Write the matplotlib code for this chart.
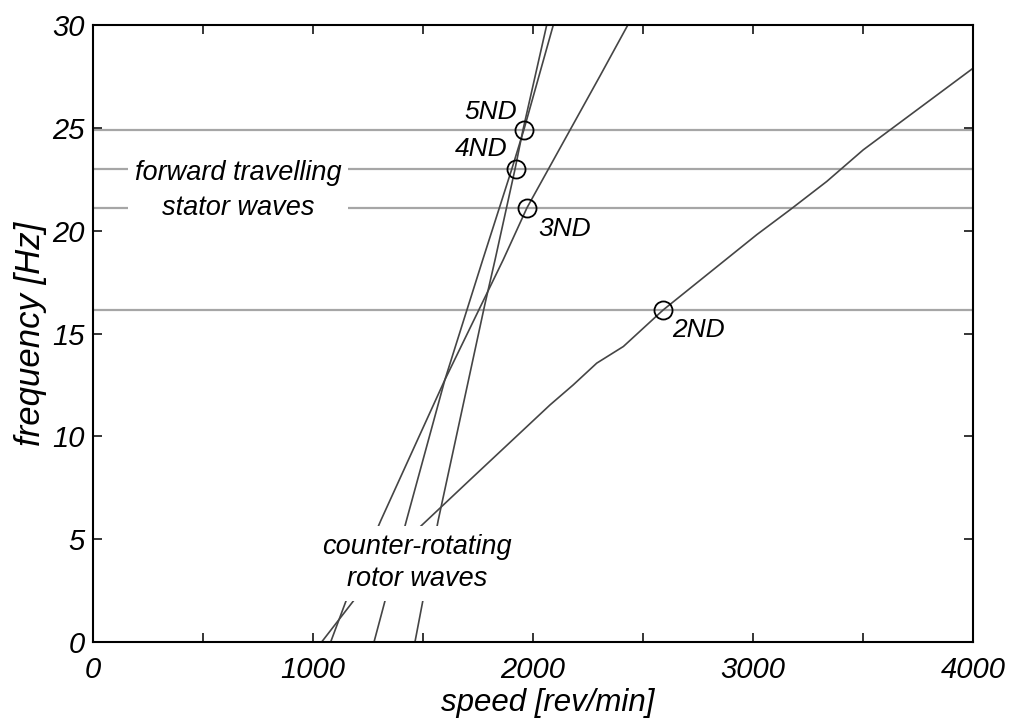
import matplotlib
matplotlib.use("Agg")
import matplotlib.pyplot as plt
from matplotlib.ticker import MultipleLocator, FuncFormatter

# Counter-rotating rotor wave branches (speed [rev/min], frequency [Hz])
nd2_speed = [1039, 1190, 1471, 1713, 2077, 2182, 2289, 2410, 2591, 3016, 3167, 3334, 3500, 4000]
nd2_freq = [0.0, 2.09, 5.45, 7.89, 11.54, 12.51, 13.57, 14.38, 16.16, 19.82, 21.03, 22.41, 23.95, 27.93]

nd3_speed = [1080, 1153, 1309, 1599, 1864, 1972, 2304, 2431]
nd3_freq = [0.0, 2.09, 5.94, 12.76, 18.6, 21.13, 27.55, 30.04]

nd4_speed = [1277, 1425, 1599, 1771, 1902, 1958, 2092]
nd4_freq = [0.0, 5.94, 12.76, 18.6, 22.98, 24.93, 30.04]

nd5_speed = [1463, 1569, 1780, 1827, 1917, 1954, 2062]
nd5_freq = [0.0, 5.94, 16.4, 18.6, 22.98, 24.93, 30.04]

# Forward travelling stator wave frequencies and crossing points
stator_freq = [16.15, 21.1, 23.0, 24.93]
cross_labels = ["2ND", "3ND", "4ND", "5ND"]
cross_speed = [2591, 1970, 1922, 1958]
cross_freq = [16.15, 21.1, 23.0, 24.93]
label_pos = [(2749, 15.19), (2145, 20.08), (1763, 24.0), (1808, 25.8)]

plt.rcParams["font.family"] = ["Liberation Sans", "DejaVu Sans"]
plt.rcParams["font.style"] = "italic"

fig = plt.figure(figsize=(10.16, 7.22), dpi=100)
ax = fig.add_axes([0.0915, 0.1108, 0.8665, 0.8539])

curve_kw = dict(color="#454545", lw=1.2, zorder=2)
for sp, fr in [(nd2_speed, nd2_freq), (nd3_speed, nd3_freq),
               (nd4_speed, nd4_freq), (nd5_speed, nd5_freq)]:
    ax.plot(sp, fr, **curve_kw)

for f in stator_freq:
    ax.axhline(f, color="#a6a6a6", lw=1.6, zorder=1)

ax.plot(cross_speed, cross_freq, linestyle="none", marker="o", ms=13,
        mfc="none", mec="black", mew=1.3, zorder=4)

for lab, (lx, ly) in zip(cross_labels, label_pos):
    ax.text(lx, ly, lab, fontsize=19, ha="center", va="center", zorder=5)

ax.text(659, 21.96, "forward travelling\nstator waves", fontsize=19.5,
        ha="center", va="center", linespacing=1.45, zorder=5,
        bbox=dict(facecolor="white", edgecolor="none", pad=5))
ax.text(1471, 3.82, "counter-rotating\nrotor waves", fontsize=19.5,
        ha="center", va="center", linespacing=1.3, zorder=5,
        bbox=dict(facecolor="white", edgecolor="none", pad=6))

ax.set_xlim(0, 4000)
ax.set_ylim(0, 30)
ax.xaxis.set_major_locator(MultipleLocator(500))
ax.yaxis.set_major_locator(MultipleLocator(5))
ax.xaxis.set_major_formatter(FuncFormatter(
    lambda v, p: f"{int(round(v))}" if int(round(v)) % 1000 == 0 else ""))
ax.yaxis.set_major_formatter(FuncFormatter(lambda v, p: f"{int(round(v))}"))

ax.tick_params(direction="in", length=6.5, width=1.1, top=True, right=True,
               labelsize=21)
ax.tick_params(axis="x", pad=10)
ax.tick_params(axis="y", pad=6)
for s in ax.spines.values():
    s.set_linewidth(1.5)

ax.set_xlabel("speed [rev/min]", fontsize=22.5)
ax.xaxis.set_label_coords(0.517, -0.074)
ax.set_ylabel("frequency [Hz]", fontsize=25, labelpad=4)

fig.savefig("out.png", dpi=100)
